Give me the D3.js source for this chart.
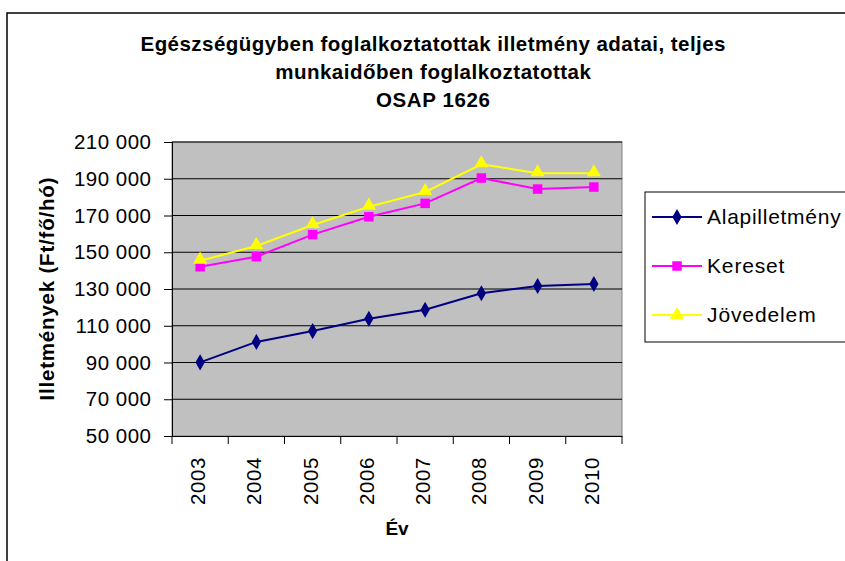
<!DOCTYPE html>
<html>
<head>
<meta charset="utf-8">
<script src="https://cdn.jsdelivr.net/npm/d3@7"></script>
<style>
  body { margin: 0; background: #fff; }
  text { font-family: "Liberation Sans", Arial, sans-serif; }
</style>
</head>
<body>
<div id="chart"></div>
<script>
// values (Ft/fő/hó)
var years = ["2003", "2004", "2005", "2006", "2007", "2008", "2009", "2010"];
var alapilletmeny = [90100, 101200, 107100, 113800, 118700, 127700, 131600, 132700];
var kereset = [142100, 147600, 159600, 169300, 176600, 190400, 184400, 185500];
var jovedelem = [145400, 153400, 164800, 174800, 182800, 197900, 193000, 193000];
var yTicks = [50000, 70000, 90000, 110000, 130000, 150000, 170000, 190000, 210000];
var titleLines = ["Egészségügyben foglalkoztatottak illetmény adatai, teljes",
    "munkaidőben foglalkoztatottak", "OSAP 1626"];

var width = 845, height = 561;
var plot = { left: 172, right: 622, top: 142, bottom: 436 };

var series = [
    { name: "Alapilletmény", values: alapilletmeny, color: "#000080", symbol: d3.symbolDiamond, size: 75 },
    { name: "Kereset", values: kereset, color: "#ff00ff", symbol: d3.symbolSquare, size: 90 },
    { name: "Jövedelem", values: jovedelem, color: "#ffff00", symbol: d3.symbolTriangle, size: 85 }
];

// the reference font runs a bit wider than Liberation Sans, so spread the letters
function stretch(sel, ratio) {
    sel.each(function () {
        var w = this.getComputedTextLength();
        d3.select(this).attr("textLength", w * ratio).attr("lengthAdjust", "spacing");
    });
}

var svg = d3.select("#chart").append("svg")
    .attr("width", width)
    .attr("height", height);

// outer chart frame (runs off the right and bottom edge)
svg.append("rect")
    .attr("x", 7).attr("y", 13)
    .attr("width", 860).attr("height", 600)
    .attr("fill", "#fff")
    .attr("stroke", "#000")
    .attr("stroke-width", 1.5);

var x = d3.scaleBand().domain(years).range([plot.left, plot.right]).padding(0);
var y = d3.scaleLinear().domain([50000, 210000]).range([plot.bottom, plot.top]);

var huFormat = d3.formatLocale({ decimal: ",", thousands: " ", grouping: [3], currency: ["", ""] }).format(",");

// plot area
svg.append("rect")
    .attr("x", plot.left).attr("y", plot.top)
    .attr("width", plot.right - plot.left).attr("height", plot.bottom - plot.top)
    .attr("fill", "#c0c0c0")
    .attr("stroke", "#808080")
    .attr("stroke-width", 1);

// gridlines
svg.append("g")
    .selectAll("line")
    .data(yTicks.slice(1))
    .enter().append("line")
    .attr("x1", plot.left).attr("x2", plot.right)
    .attr("y1", function (d) { return y(d); })
    .attr("y2", function (d) { return y(d); })
    .attr("stroke", "#000")
    .attr("stroke-width", 1);

// y axis
var yAxis = svg.append("g")
    .attr("transform", "translate(" + plot.left + ",0)")
    .call(d3.axisLeft(y).tickValues(yTicks).tickFormat(huFormat).tickSize(8).tickPadding(13));
yAxis.select(".domain").attr("stroke", "#000");
yAxis.selectAll("text")
    .attr("font-size", 20.5)
    .attr("fill", "#000")
    .style("font-family", "'Liberation Sans', Arial, sans-serif")
    .call(stretch, 1.04);

// x axis: labels at the band centres, tick marks on the band edges
var xAxis = svg.append("g")
    .attr("transform", "translate(0," + plot.bottom + ")")
    .call(d3.axisBottom(x).tickSize(0).tickPadding(0));
xAxis.select(".domain").attr("stroke", "#000");
xAxis.selectAll("text")
    .attr("font-size", 20.5)
    .attr("fill", "#000")
    .attr("transform", "translate(5,69) rotate(-90)")
    .attr("text-anchor", "start")
    .attr("dy", 0)
    .attr("y", 0)
    .style("font-family", "'Liberation Sans', Arial, sans-serif")
    .call(stretch, 1.04);

var edges = years.map(function (d) { return x(d); }).concat([x.range()[1]]);
svg.append("g")
    .selectAll("line")
    .data(edges)
    .enter().append("line")
    .attr("x1", function (d) { return d; })
    .attr("x2", function (d) { return d; })
    .attr("y1", plot.bottom).attr("y2", plot.bottom + 8)
    .attr("stroke", "#000");

// series
var line = d3.line()
    .x(function (d, i) { return x(years[i]) + x.bandwidth() / 2; })
    .y(function (d) { return y(d); });

series.forEach(function (s) {
    svg.append("path")
        .datum(s.values)
        .attr("d", line)
        .attr("fill", "none")
        .attr("stroke", s.color)
        .attr("stroke-width", 2);

    svg.append("g")
        .selectAll("path")
        .data(s.values)
        .enter().append("path")
        .attr("d", d3.symbol().type(s.symbol).size(s.size))
        .attr("transform", function (d, i) {
            var ty = s.symbol === d3.symbolTriangle ? y(d) - 1 : y(d);
            return "translate(" + (x(years[i]) + x.bandwidth() / 2) + "," + ty + ")";
        })
        .attr("fill", s.color);
});

// title
var title = svg.append("g")
    .selectAll("text")
    .data(titleLines)
    .enter().append("text")
    .attr("x", 433)
    .attr("y", function (d, i) { return 51 + i * 28; })
    .attr("text-anchor", "middle")
    .attr("font-size", 20.5)
    .attr("font-weight", "bold")
    .text(function (d) { return d; });
var titleRatio = 585 / title.node().getComputedTextLength();
title.call(stretch, titleRatio);

// axis titles
var yTitle = svg.append("text")
    .attr("transform", "translate(54," + ((plot.top + plot.bottom) / 2) + ") rotate(-90)")
    .attr("text-anchor", "middle")
    .attr("font-size", 20.5)
    .attr("font-weight", "bold")
    .text("Illetmények (Ft/fő/hó)");
yTitle.call(stretch, 223 / yTitle.node().getComputedTextLength());

svg.append("text")
    .attr("x", 397)
    .attr("y", 535)
    .attr("text-anchor", "middle")
    .attr("font-size", 19)
    .attr("font-weight", "bold")
    .text("Év");

// legend
var legend = svg.append("g");
legend.append("rect")
    .attr("x", 645).attr("y", 192)
    .attr("width", 220).attr("height", 150)
    .attr("fill", "#fff")
    .attr("stroke", "#000")
    .attr("stroke-width", 1);

var item = legend.selectAll("g.item")
    .data(series)
    .enter().append("g")
    .attr("class", "item")
    .attr("transform", function (d, i) { return "translate(0," + (217 + i * 49) + ")"; });

item.append("line")
    .attr("x1", 652).attr("x2", 702)
    .attr("stroke", function (d) { return d.color; })
    .attr("stroke-width", 2);
item.append("path")
    .attr("d", function (d) { return d3.symbol().type(d.symbol).size(d.size)(); })
    .attr("transform", "translate(677,0)")
    .attr("fill", function (d) { return d.color; });
item.append("text")
    .attr("x", 707)
    .attr("y", 7)
    .attr("font-size", 21)
    .text(function (d) { return d.name; })
    .call(stretch, 1.07);
</script>
</body>
</html>
